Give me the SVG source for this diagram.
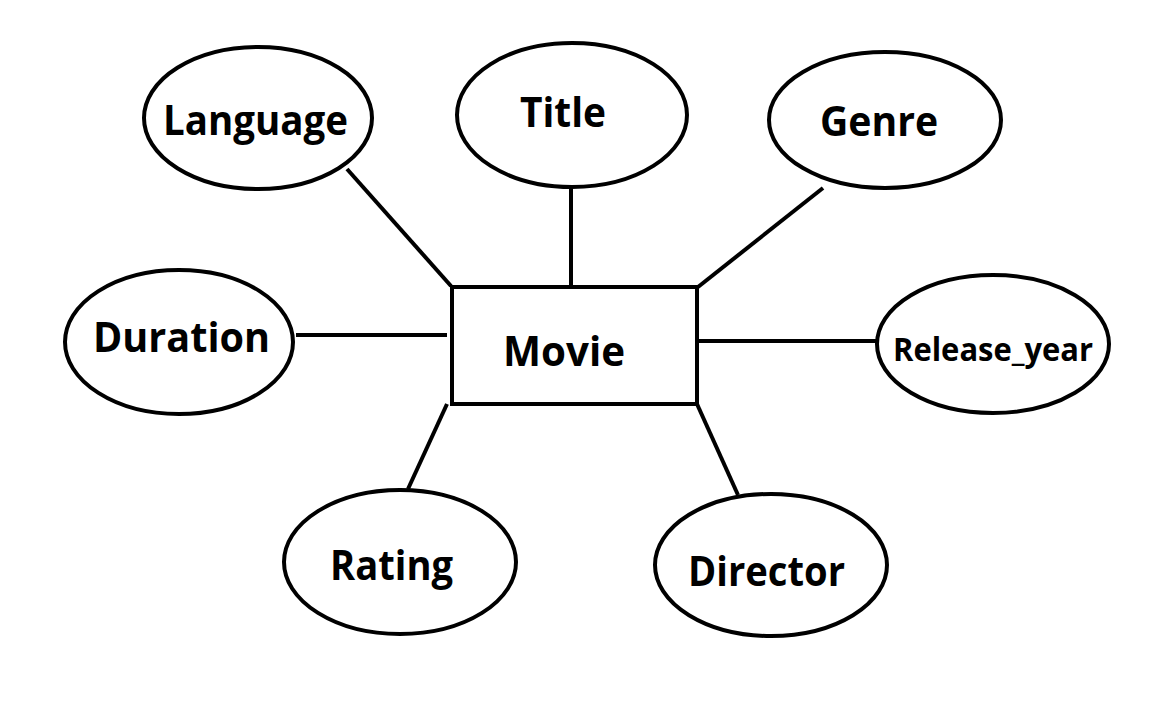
<svg xmlns="http://www.w3.org/2000/svg" width="1152" height="720" viewBox="0 0 1152 720">
<style>
.n{fill:#fff;stroke:#000;stroke-width:4}
.t{font-family:"Open Sans","Liberation Sans",sans-serif;font-weight:bold;font-size:42px;fill:#000}
.c line{stroke:#000;stroke-width:4}
</style>
<rect width="1152" height="720" fill="#fff"/>
<g class="c" id="connectors">
<line x1="347" y1="169" x2="451" y2="286"/>
<line x1="571" y1="188" x2="571" y2="287"/>
<line x1="823" y1="188" x2="698" y2="287"/>
<line x1="296" y1="335" x2="447" y2="335"/>
<line x1="697" y1="341" x2="876" y2="341"/>
<line x1="447" y1="404" x2="408" y2="489"/>
<line x1="697" y1="404" x2="738" y2="495"/>
</g>
<g id="movie"><rect class="n" x="452" y="287" width="245" height="117"/><text class="t" x="503" y="366" textLength="122" lengthAdjust="spacingAndGlyphs">Movie</text></g>
<g id="language"><ellipse class="n" cx="258" cy="118" rx="114" ry="71"/><text class="t" x="163" y="135" textLength="185" lengthAdjust="spacingAndGlyphs">Language</text></g>
<g id="title"><ellipse class="n" cx="572" cy="115" rx="115" ry="72"/><text class="t" x="520" y="127" textLength="86" lengthAdjust="spacingAndGlyphs">Title</text></g>
<g id="genre"><ellipse class="n" cx="885" cy="120" rx="116" ry="68"/><text class="t" x="820" y="136" textLength="118" lengthAdjust="spacingAndGlyphs">Genre</text></g>
<g id="duration"><ellipse class="n" cx="179" cy="342" rx="114" ry="72"/><text class="t" x="93" y="352" textLength="177" lengthAdjust="spacingAndGlyphs">Duration</text></g>
<g id="release_year"><ellipse class="n" cx="993" cy="344" rx="116" ry="69"/><text class="t" x="893" y="361" font-size="32" style="font-size:32px" textLength="200" lengthAdjust="spacingAndGlyphs">Release_year</text></g>
<g id="rating"><ellipse class="n" cx="400" cy="562" rx="116" ry="72"/><text class="t" x="330" y="580" textLength="123" lengthAdjust="spacingAndGlyphs">Rating</text></g>
<g id="director"><ellipse class="n" cx="771" cy="565" rx="116" ry="71"/><text class="t" x="688" y="586" textLength="157" lengthAdjust="spacingAndGlyphs">Director</text></g>
</svg>
